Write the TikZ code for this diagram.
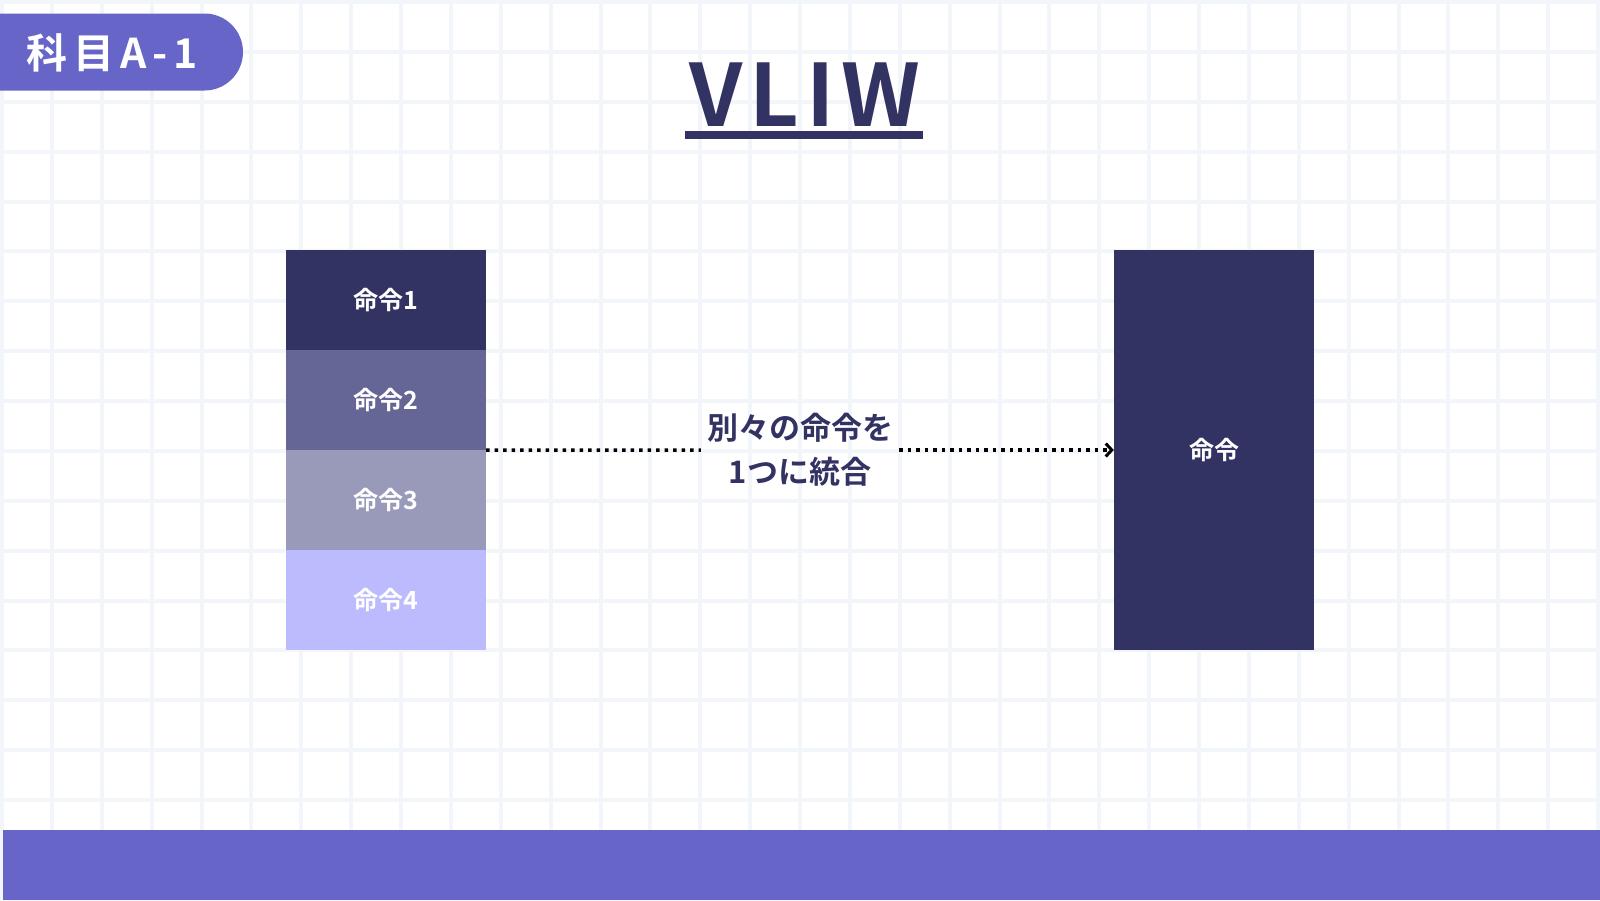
\documentclass[tikz,border=0pt]{standalone}
\usepackage{fontspec}
\setmainfont{Noto Sans CJK JP}[BoldFont={Noto Sans CJK JP Bold}]
\usetikzlibrary{arrows.meta}
\definecolor{tagc}{HTML}{6766C8}
\definecolor{navy}{HTML}{333363}
\definecolor{c2}{HTML}{666696}
\definecolor{c3}{HTML}{9999BA}
\definecolor{c4}{HTML}{BBBBFD}
\definecolor{gridc}{HTML}{F2F6FA}
\begin{document}
\begin{tikzpicture}[x=1pt,y=-1pt,
  box/.style={minimum width=200pt,minimum height=100pt,inner sep=0pt,text=white,font=\bfseries\fontsize{25}{30}\selectfont},
  dotline/.style={line width=3.5pt,dash pattern=on 3.5pt off 5pt,black},
  gridline/.style={gridc,line width=4pt}]
\useasboundingbox (0,0) rectangle (1600,900);
\fill[white] (0,0) rectangle (1600,900);
\foreach \i in {0,...,32} \draw[gridline] ({2+49.875*\i},0) -- ({2+49.875*\i},900);
\foreach \i in {0,...,18} \draw[gridline] (0,{2+49.875*\i}) -- (1600,{2+49.875*\i});
% tag
\fill[tagc,rounded corners=38.5pt] (-60,13.5) rectangle (243,90.5);
\node[text=white,font=\bfseries\fontsize{41}{41}\selectfont,inner sep=0pt] (tag) at (112,53) {科\hspace{6pt}目\hspace{6pt}A\hspace{6pt}-\hspace{6pt}1};
% title
\node[text=navy,font=\bfseries\fontsize{86}{86}\selectfont,inner sep=0pt,anchor=base] (title) at (805,126) {V\hspace{7pt}L\hspace{7pt}I\hspace{7pt}W};
\coordinate (ul1) at (0,131);
\coordinate (ul2) at (0,139);
\fill[navy] (685,131) rectangle (923,139);
% boxes
\node[box,fill=navy] (i1) at (386,300) {命令1};
\node[box,fill=c2] (i2) at (386,400) {命令2};
\node[box,fill=c3] (i3) at (386,500) {命令3};
\node[box,fill=c4] (i4) at (386,600) {命令4};
\node[box,fill=navy,minimum height=400pt] (r) at (1214,450) {命令};
\node[text=navy,font=\bfseries\fontsize{31}{44}\selectfont,align=center,inner xsep=6pt,inner ysep=0pt] (lbl) at (800,450) {別々の命令を\\1つに統合};
\draw[dotline] (i2.south east) -- (lbl.west);
\draw[dotline,-{Straight Barb[length=6pt,width=13pt,line width=3pt]}] (lbl.east) -- (r.west);
% bottom bar
\fill[tagc] (3,830) rectangle (1600,900);
\end{tikzpicture}
\end{document}
